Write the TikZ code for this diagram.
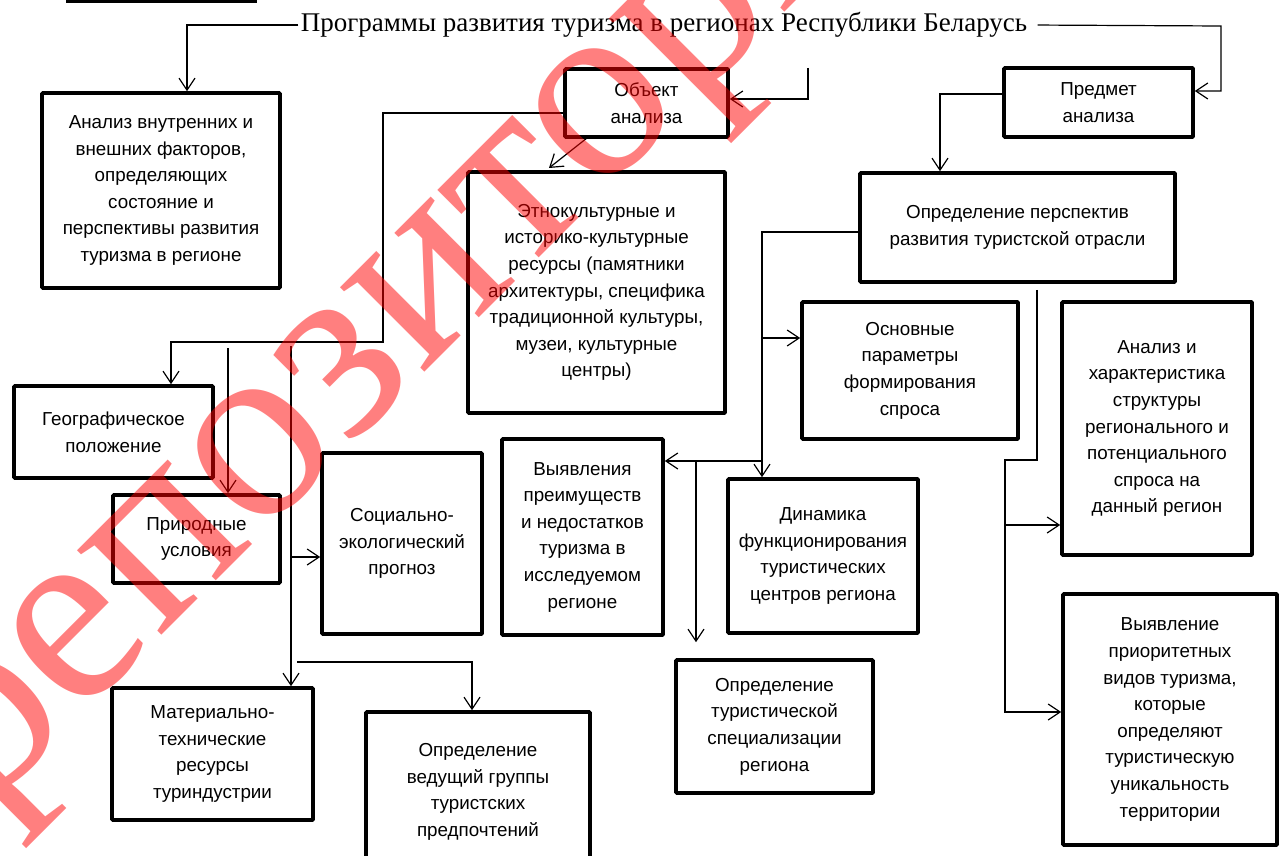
\documentclass[tikz,border=0pt]{standalone}
\usepackage{fontspec}
\setmainfont{Liberation Sans}
\newfontfamily\titlefont{Liberation Serif}
\newfontfamily\wmfont{Liberation Serif}
\usetikzlibrary{arrows.meta}
\newcommand\mybox[6]{\node[boxnode, txt, minimum width={(#4-#2)*0.5pt}, minimum height={(#5-#3)*0.5pt}] (#1) at ({(#2+#4)/2},{(#3+#5)/2}) {#6};}
\begin{document}
\begin{tikzpicture}[x=0.5pt,y=-0.5pt,
  boxnode/.style={draw, line width=1.8pt, inner sep=0pt, rounded corners=0.4pt},
  boxline/.style={line width=1.8pt},
  conn/.style={line width=0.6pt},
  arr/.style={conn, -{Straight Barb[length=6pt,width=8pt]}},
  txt/.style={align=center, font=\fontsize{9.4}{13.3}\selectfont}
]
\useasboundingbox (0,0) rectangle (1287,856);
\fill[white] (0,0) rectangle (1287,856);
\clip (0,0) rectangle (1287,856);

\draw[boxline] (68,-40) rectangle (255,1);

\node[font=\titlefont\fontsize{13.5}{16}\selectfont, inner sep=1pt] (title) at (664,25) {Программы развития туризма в регионах Республики Беларусь};

\mybox{anf}{42}{93}{280}{288}{Анализ внутренних и\\внешних факторов,\\определяющих\\состояние и\\перспективы развития\\туризма в регионе}
\mybox{obj}{565}{69}{728}{137}{Объект\\анализа}
\mybox{pred}{1004}{68}{1193}{137}{Предмет\\анализа}
\mybox{etn}{468}{172}{725}{413}{Этнокультурные и\\историко-культурные\\ресурсы (памятники\\архитектуры, специфика\\традиционной культуры,\\музеи, культурные\\центры)}
\mybox{per}{860}{173}{1175}{282}{Определение перспектив\\развития туристской отрасли}
\mybox{osn}{802}{302}{1018}{439}{Основные\\параметры\\формирования\\спроса}
\mybox{ank}{1062}{302}{1252}{555}{Анализ и\\характеристика\\структуры\\регионального и\\потенциального\\спроса на\\данный регион}
\mybox{geo}{14}{386}{213}{478}{Географическое\\положение}
\mybox{pri}{113}{495}{280}{583}{Природные\\условия}
\mybox{soc}{322}{453}{482}{634}{Социально-\\экологический\\прогноз}
\mybox{vyy}{502}{439}{663}{635}{Выявления\\преимуществ\\и недостатков\\туризма в\\исследуемом\\регионе}
\mybox{dyn}{728}{479}{918}{633}{Динамика\\функционирования\\туристических\\центров региона}
\mybox{opr}{676}{660}{873}{793}{Определение\\туристической\\специализации\\региона}
\mybox{mat}{112}{688}{313}{820}{Материально-\\технические\\ресурсы\\туриндустрии}
\mybox{ved}{366}{712}{590}{872}{Определение\\ведущий группы\\туристских\\предпочтений}
\mybox{vyp}{1063}{594}{1277}{845}{Выявление\\приоритетных\\видов туризма,\\которые\\определяют\\туристическую\\уникальность\\территории}

% title connectors
\coordinate (t1) at (187,25);
\draw[arr] (title.west) -- (t1) -- (t1 |- anf.north);
\coordinate (t2) at (1221,26);
\coordinate (t3) at (1221,91);
\draw[arr, shorten <=4pt] (title.east) -- (t2) -- (t3) -- (t3 -| pred.east);

% object
\coordinate (o1) at (808,68);
\coordinate (o2) at (808,99);
\draw[arr] (o1) -- (o2) -- (o2 -| obj.east);
\coordinate (o3) at (383,113);
\coordinate (o4) at (383,342);
\coordinate (o5) at (171,342);
\draw[arr] (o3 -| obj.west) -- (o3) -- (o4) -- (o5) -- (o5 |- geo.north);
\coordinate (o6) at (228,348);
\draw[arr] (o6) -- (o6 |- pri.north);
\coordinate (o7) at (291,346);
\draw[arr] (o7) -- (o7 |- mat.north);
\coordinate (o8) at (291,557);
\draw[arr] (o8) -- (o8 -| soc.west);
\coordinate (o9) at (297,662);
\coordinate (o10) at (472,662);
\draw[arr] (o9) -- (o10) -- (o10 |- ved.north);
\coordinate (o11) at (587,138);
\coordinate (o12) at (549,168);
\draw[arr] (o11) -- (o12);

% subject
\coordinate (p1) at (940,94);
\draw[arr] (p1 -| pred.west) -- (p1) -- (p1 |- per.north);
\coordinate (q1) at (762,232);
\draw[arr] (q1 -| per.west) -- (q1) -- (q1 |- dyn.north);
\coordinate (q2) at (762,338);
\draw[arr] (q2) -- (q2 -| osn.west);
\coordinate (q3) at (762,461);
\draw[arr] (q3) -- (q3 -| vyy.east);
\coordinate (q4) at (696,461);
\draw[arr, shorten >=8pt] (q4) -- (q4 |- opr.north);
\coordinate (r1) at (1037,290);
\coordinate (r2) at (1037,460);
\coordinate (r3) at (1005,460);
\coordinate (r4) at (1005,712);
\draw[arr] (r1) -- (r2) -- (r3) -- (r4) -- (r4 -| vyp.west);
\coordinate (r5) at (1005,525);
\draw[arr] (r5) -- (r5 -| ank.west);

% watermark
\node[rotate=45, text=red, text opacity=0.5, font=\wmfont\fontsize{130}{130}\selectfont] (wm) at (438,272) {репозиторий};
\end{tikzpicture}
\end{document}
